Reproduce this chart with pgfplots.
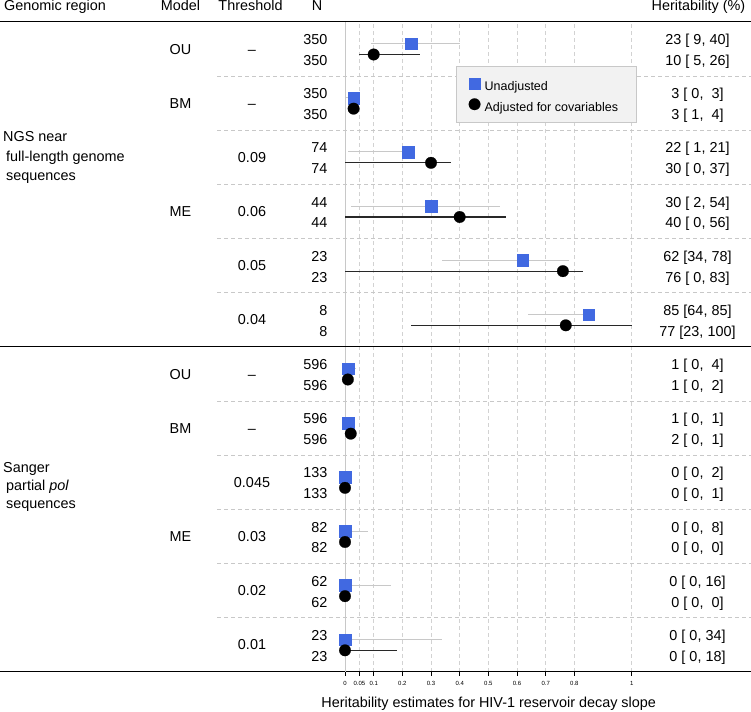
\documentclass[border=0pt]{standalone}
\usepackage{fontspec}
\setmainfont{Liberation Sans}
\usepackage{pgfplots}
\pgfplotsset{compat=1.18}
\usepackage{pgfplotstable}

\definecolor{royal}{RGB}{65,105,225}
\definecolor{cilight}{RGB}{200,200,200}
\definecolor{cidark}{RGB}{40,40,40}
\definecolor{gridc}{RGB}{210,210,210}
\definecolor{sepc}{RGB}{200,200,200}
\definecolor{legfill}{RGB}{242,242,242}
\definecolor{legdraw}{RGB}{200,200,200}

% unadjusted estimates (y = row position, est/lo/hi = heritability)
\pgfplotstableread{
y est lo hi
11.6 0.23 0.09 0.40
10.6 0.03 0.00 0.03
9.6 0.22 0.01 0.21
8.6 0.30 0.02 0.54
7.6 0.62 0.34 0.78
6.6 0.85 0.64 0.85
5.6 0.01 0.00 0.04
4.6 0.01 0.00 0.01
3.6 0.00 0.00 0.02
2.6 0.00 0.00 0.08
1.6 0.00 0.00 0.16
0.6 0.00 0.00 0.34
}\unadj

% adjusted for covariables
\pgfplotstableread{
y est lo hi
11.4 0.10 0.05 0.26
10.4 0.03 0.01 0.04
9.4 0.30 0.00 0.37
8.4 0.40 0.00 0.56
7.4 0.76 0.00 0.83
6.4 0.77 0.23 1.00
5.4 0.01 0.00 0.02
4.4 0.02 0.00 0.01
3.4 0.00 0.00 0.01
2.4 0.00 0.00 0.00
1.4 0.00 0.00 0.00
0.4 0.00 0.00 0.18
}\adj

\newcommand{\G}[6]{%
  \pgfmathsetmacro{\tyc}{711-(22+54.1667*(#1+0.5))}%
  \node[anchor=base, inner sep=0pt] at (180.5pt,{(\tyc-5)*1pt}) {#2};
  \node[anchor=base, inner sep=0pt] at (252pt,{(\tyc-5)*1pt}) {#3};
  \node[anchor=base east, inner sep=0pt] at (327.5pt,{(\tyc+4.5)*1pt}) {#4};
  \node[anchor=base east, inner sep=0pt] at (327.5pt,{(\tyc-16.3)*1pt}) {#4};
  \node[anchor=base, inner sep=0pt] at (697.5pt,{(\tyc+4.5)*1pt}) {#5};
  \node[anchor=base, inner sep=0pt] at (697.5pt,{(\tyc-16.3)*1pt}) {#6};
}

\begin{document}
\begin{tikzpicture}[font=\fontsize{14.4}{17}\selectfont]
\begin{axis}[
  at={(0pt,39pt)}, anchor=south west, scale only axis,
  width=751pt, height=650pt,
  xmin=-1.20335, xmax=1.41611, ymin=0, ymax=12, clip=false,
  axis x line*=bottom, axis y line=none,
  x axis line style={black, line width=1pt},
  xtick={0,0.05,0.1,0.2,0.3,0.4,0.5,0.6,0.7,0.8,1},
  xticklabels={0,0.05,0.1,0.2,0.3,0.4,0.5,0.6,0.7,0.8,1},
  xticklabel style={font=\fontsize{6}{7}\selectfont, text=black, yshift=-1.5pt},
  /pgf/number format/assume math mode=true,
  tick align=outside, major tick length=4pt,
  tick style={black, line width=0.7pt},
  ytick=\empty,
  xmajorgrids, grid style={gridc, dash pattern=on 4pt off 3pt, line width=0.7pt},
  legend style={draw=none, fill=none, at={(axis description cs:0.6239,0.9142)},
    anchor=north west, font=\fontsize{12.5}{15}\selectfont, row sep=5.4pt,
    inner sep=0pt, nodes={inner sep=1pt},
    /tikz/every odd column/.append style={column sep=3.3pt}},
  legend cell align=left,
  legend image code/.code={\draw[#1] plot coordinates {(0pt,3pt)};},
]
\pgfplotsinvokeforeach{11,10,9,8,7,5,4,3,2,1}{
  \draw[sepc, line width=0.8pt, dash pattern=on 4pt off 3pt] (axis cs:-0.44646,#1) -- (axis cs:1.41611,#1);
}
\draw[cilight, line width=0.9pt] (axis cs:0,0) -- (axis cs:0,12);

\addplot[only marks, mark=square*, mark size=5.8pt, royal, mark options={line width=0.2pt, solid},
  error bars/.cd, x dir=both, x explicit, error mark=none,
  error bar style={cilight, line width=1pt, solid}]
  table[x=est, y=y, x error plus expr=\thisrow{hi}-\thisrow{est},
        x error minus expr=\thisrow{est}-\thisrow{lo}] {\unadj};
\addlegendentry{Unadjusted}
\addplot[only marks, mark=*, mark size=5.8pt, black, mark options={line width=0.2pt, solid},
  error bars/.cd, x dir=both, x explicit, error mark=none,
  error bar style={cidark, line width=1.3pt, solid}]
  table[x=est, y=y, x error plus expr=\thisrow{hi}-\thisrow{est},
        x error minus expr=\thisrow{est}-\thisrow{lo}] {\adj};
\addlegendentry{Adjusted for covariables}

\draw[legdraw, fill=legfill, line width=0.6pt] (axis cs:0.3872,11.175) rectangle (axis cs:1.0150,10.141);
\end{axis}

% frame lines
\draw[black, line width=1pt] (0pt,689pt) -- (751pt,689pt);
\draw[black, line width=1pt] (0pt,364pt) -- (751pt,364pt);

% headers
\node[anchor=base west, inner sep=0pt] at (4pt,700pt) {Genomic region};
\node[anchor=base, inner sep=0pt] at (180.5pt,700pt) {Model};
\node[anchor=base, inner sep=0pt] at (250.5pt,700pt) {Threshold};
\node[anchor=base, inner sep=0pt] at (317pt,700pt) {N};
\node[anchor=base east, inner sep=0pt] at (745.5pt,700pt) {Heritability (\%)};

% genomic region labels
\node[anchor=base west, inner sep=0pt] at (3pt,{(711-142)*1pt}) {NGS near};
\node[anchor=base west, inner sep=0pt] at (6pt,{(711-161.5)*1pt}) {full-length genome};
\node[anchor=base west, inner sep=0pt] at (6pt,{(711-180.5)*1pt}) {sequences};
\node[anchor=base west, inner sep=0pt] at (3pt,{(711-473)*1pt}) {Sanger};
\node[anchor=base west, inner sep=0pt] at (6pt,{(711-491)*1pt}) {partial \textit{pol}};
\node[anchor=base west, inner sep=0pt] at (6pt,{(711-508.5)*1pt}) {sequences};

% rows
\G{0}{OU}{--}{350}{23 [\ 9, 40]}{10 [\ 5, 26]}
\G{1}{BM}{--}{350}{3 [\ 0,\ \ 3]}{3 [\ 1,\ \ 4]}
\G{2}{}{0.09}{74}{22 [\ 1, 21]}{30 [\ 0, 37]}
\G{3}{ME}{0.06}{44}{30 [\ 2, 54]}{40 [\ 0, 56]}
\G{4}{}{0.05}{23}{62 [34, 78]}{76 [\ 0, 83]}
\G{5}{}{0.04}{8}{85 [64, 85]}{77 [23, 100]}
\G{6}{OU}{--}{596}{1 [\ 0,\ \ 4]}{1 [\ 0,\ \ 2]}
\G{7}{BM}{--}{596}{1 [\ 0,\ \ 1]}{2 [\ 0,\ \ 1]}
\G{8}{}{0.045}{133}{0 [\ 0,\ \ 2]}{0 [\ 0,\ \ 1]}
\G{9}{ME}{0.03}{82}{0 [\ 0,\ \ 8]}{0 [\ 0,\ \ 0]}
\G{10}{}{0.02}{62}{0 [\ 0, 16]}{0 [\ 0,\ \ 0]}
\G{11}{}{0.01}{23}{0 [\ 0, 34]}{0 [\ 0, 18]}

% x label
\node[anchor=base, inner sep=0pt] at (488.7pt,3.5pt) {Heritability estimates for HIV-1 reservoir decay slope};

\pgfresetboundingbox
\path[use as bounding box] (0pt,0pt) rectangle (751pt,711pt);
\end{tikzpicture}
\end{document}
